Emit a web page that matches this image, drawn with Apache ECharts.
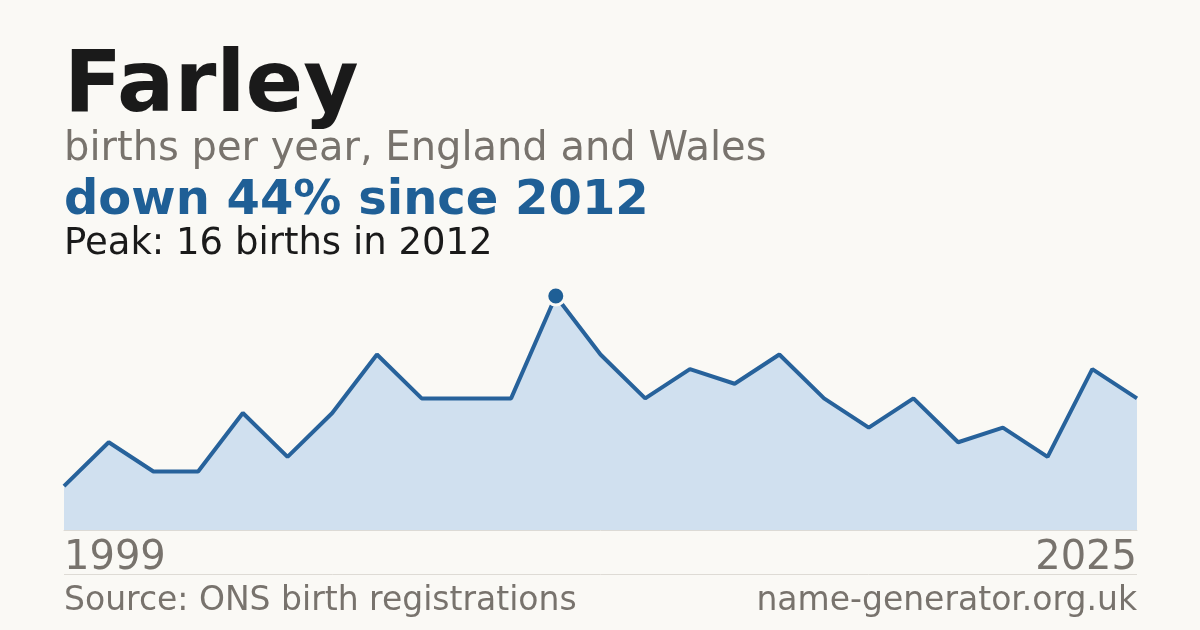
<!DOCTYPE html>
<html>
<head>
<meta charset="utf-8">
<script src="https://cdn.jsdelivr.net/npm/echarts@6/dist/echarts.min.js"></script>
<style>
  html, body { margin: 0; padding: 0; background: #faf9f5; }
  #chart { width: 1200px; height: 630px; }
</style>
</head>
<body>
<div id="chart"></div>
<script type="text/javascript">
// years with a registration (two early years have no record)
var years = ['1999','2000','2001','2002','2003','2006','2007','2008','2009','2010','2011','2012',
             '2013','2014','2015','2016','2017','2018','2019','2020','2021','2022','2023','2024','2025'];
var births = [3, 6, 4, 4, 8, 5, 8, 12, 9, 9, 9, 16,
              12, 9, 11, 10, 12, 9, 7, 9, 6, 7, 5, 11, 9];

var peakIdx = 0;
for (var i = 0; i < births.length; i++) {
  if (births[i] > births[peakIdx]) peakIdx = i;
}
var peakYear = years[peakIdx];
var peakVal = births[peakIdx];
var lastVal = births[births.length - 1];
var drop = Math.round((peakVal - lastVal) / peakVal * 100);

var font = '"DejaVu Sans"';
var grey = '#78736d';
var blue = '#1f5f96';

var chart = echarts.init(document.getElementById('chart'));
var option = {
  backgroundColor: '#faf9f5',
  animation: false,
  grid: { left: 64, right: 63, top: 296, bottom: 100 },
  xAxis: {
    type: 'category',
    data: years,
    boundaryGap: false,
    axisLine: { show: true, lineStyle: { color: '#dcdad5', width: 1 } },
    axisTick: { show: false },
    splitLine: { show: false },
    axisLabel: {
      interval: function (index) { return index === 0 || index === years.length - 1; },
      fontFamily: 'DejaVu Sans',
      fontSize: 40,
      color: grey,
      margin: 29,
      verticalAlign: 'middle',
      alignMinLabel: 'left',
      alignMaxLabel: 'right'
    }
  },
  yAxis: {
    type: 'value',
    min: 0,
    max: peakVal,
    show: false,
    splitLine: { show: false }
  },
  series: [{
    type: 'line',
    data: births,
    showSymbol: false,
    symbol: 'none',
    lineStyle: { color: '#27629b', width: 4 },
    areaStyle: { color: '#d0e0ef', opacity: 1 },
    z: 2
  }, {
    type: 'scatter',
    data: [[peakIdx, peakVal]],
    symbolSize: 18,
    itemStyle: { color: blue, opacity: 1, borderColor: '#faf9f5', borderWidth: 3 },
    clip: false,
    z: 3
  }],
  graphic: [
    { type: 'text', position: [64, 89], style: { text: 'Farley', font: 'bold 85px ' + font, fill: '#1a1a1a', verticalAlign: 'middle' } },
    { type: 'text', position: [64, 150], style: { text: 'births per year, England and Wales', font: '40px ' + font, fill: grey, verticalAlign: 'middle' } },
    { type: 'text', position: [64, 202], style: { text: 'down ' + drop + '% since ' + peakYear, font: 'bold 48px ' + font, fill: blue, verticalAlign: 'middle' } },
    { type: 'text', position: [64, 244], style: { text: 'Peak: ' + peakVal + ' births in ' + peakYear, font: '37px ' + font, fill: '#1a1a1a', verticalAlign: 'middle' } },
    { type: 'line', shape: { x1: 64, y1: 574.5, x2: 1137, y2: 574.5 }, style: { stroke: '#dedbd5', lineWidth: 1 } },
    { type: 'text', position: [64, 601], style: { text: 'Source: ONS birth registrations', font: '33px ' + font, fill: grey, verticalAlign: 'middle' } },
    { type: 'text', position: [1137, 601], style: { text: 'name-generator.org.uk', font: '33px ' + font, fill: grey, align: 'right', verticalAlign: 'middle' } }
  ]
};
chart.setOption(option);
</script>
</body>
</html>
